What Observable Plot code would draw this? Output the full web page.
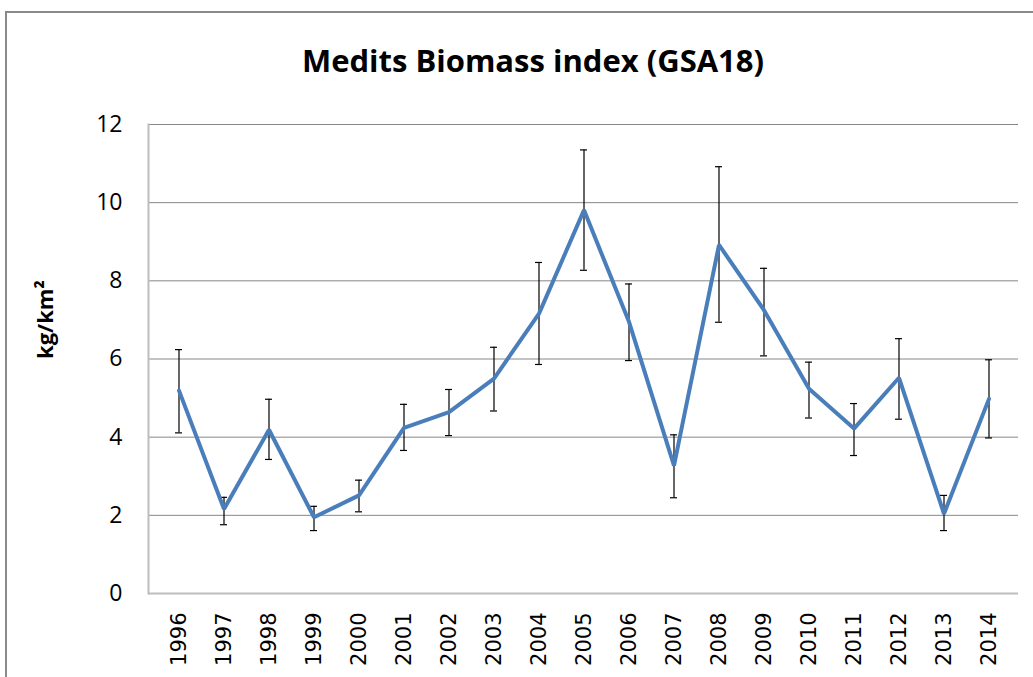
<!DOCTYPE html>
<html>
<head>
<meta charset="utf-8">
<script src="https://cdn.jsdelivr.net/npm/d3@7"></script>
<script src="https://cdn.jsdelivr.net/npm/@observablehq/plot@0.6"></script>
<style>
  html, body { margin: 0; padding: 0; background: #fff; overflow: hidden; }
  #wrap { position: relative; width: 1033px; height: 677px; overflow: hidden; }
  #border { position: absolute; left: 5px; top: 11px; width: 1060px; height: 700px;
            border-left: 2px solid #8a8a8a; border-top: 2px solid #8a8a8a; border-right: 0; border-bottom: 0; }
  #title { position: absolute; left: 0; top: 45px; width: 1066px; text-align: center;
           font-family: "Open Sans", sans-serif; font-weight: 700; font-size: 31px; line-height: 30px; color: #000; }
  #chart { position: absolute; left: 0; top: 0; width: 1033px; height: 677px; overflow: hidden; }
</style>
</head>
<body>
<div id="wrap">
  <div id="border"></div>
  <div id="chart"></div>
  <div id="title"></div>
</div>
<script>
const titleText = "Medits Biomass index (GSA18)";
const yLabel = "kg/km²";
const years = ["1996","1997","1998","1999","2000","2001","2002","2003","2004","2005","2006","2007","2008","2009","2010","2011","2012","2013","2014"];
const values = [5.19, 2.16, 4.19, 1.95, 2.51, 4.24, 4.64, 5.50, 7.16, 9.81, 6.95, 3.27, 8.92, 7.25, 5.24, 4.22, 5.52, 2.04, 4.98];
const upper  = [6.24, 2.46, 4.97, 2.23, 2.90, 4.84, 5.22, 6.30, 8.47, 11.35, 7.92, 4.06, 10.92, 8.32, 5.92, 4.86, 6.52, 2.51, 5.98];
const lower  = [4.11, 1.76, 3.43, 1.61, 2.09, 3.66, 4.04, 4.67, 5.86, 8.27, 5.96, 2.45, 6.94, 6.08, 4.49, 3.53, 4.46, 1.61, 3.98];
const yTicks = [0, 2, 4, 6, 8, 10, 12];

const data = years.map((year, i) => ({year, value: values[i], hi: upper[i], lo: lower[i]}));

document.getElementById("title").textContent = titleText;

const chart = Plot.plot({
  width: 1033,
  height: 677,
  marginLeft: 148,
  marginRight: 15,
  marginTop: 124,
  marginBottom: 84,
  style: {fontFamily: "Open Sans, sans-serif", fontSize: "22px", color: "#000", background: "transparent"},
  x: {type: "band", domain: years, padding: 0},
  y: {domain: [0, 12], ticks: yTicks},
  marks: [
    Plot.gridY(yTicks.filter(d => d > 0), {stroke: "#878787", strokeOpacity: 1, strokeWidth: 1}),
    Plot.ruleY([0], {stroke: "#bdbdbd", strokeWidth: 2}),
    Plot.frame({anchor: "left", stroke: "#bdbdbd", strokeWidth: 2}),
    Plot.ruleX(data, {x: "year", y1: "lo", y2: "hi", stroke: "#000", strokeWidth: 1.2}),
    Plot.tickY(data, {x: "year", y: "hi", stroke: "#000", strokeWidth: 1.2, insetLeft: 19, insetRight: 19}),
    Plot.tickY(data, {x: "year", y: "lo", stroke: "#000", strokeWidth: 1.2, insetLeft: 19, insetRight: 19}),
    Plot.lineY(data, {x: "year", y: "value", stroke: "#4a7ebb", strokeWidth: 4, strokeLinejoin: "miter"}),
    Plot.axisX({tickRotate: -90, tickSize: 0, tickPadding: 19, fontSize: 21, fontFamily: "DejaVu Sans", label: null}),
    Plot.axisY({ticks: yTicks, tickSize: 0, tickPadding: 26, fontSize: 23, label: null}),
    Plot.text([yLabel], {frameAnchor: "left", text: d => d, rotate: -90, dx: -103, dy: 0, fontSize: 22, fontWeight: "bold"})
  ]
});
document.getElementById("chart").appendChild(chart);
</script>
</body>
</html>
